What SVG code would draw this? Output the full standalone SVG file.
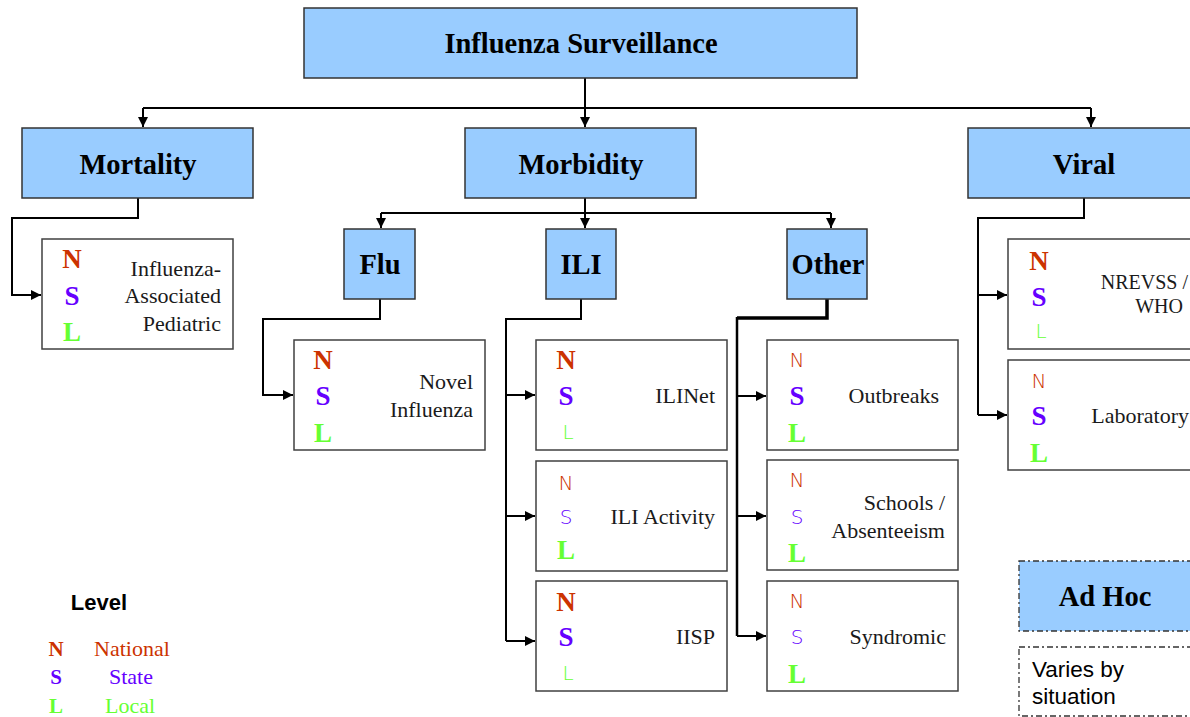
<svg xmlns="http://www.w3.org/2000/svg" width="1190" height="717" viewBox="0 0 1190 717">
<defs>
<marker id="arr" viewBox="0 0 10 10" refX="10" refY="5" markerWidth="10" markerHeight="10" markerUnits="userSpaceOnUse" orient="auto"><path d="M0,0 L10,5 L0,10 z" fill="#000"/></marker>
<style>
.hb{fill:#99CCFF;stroke:#333;stroke-width:1.5}
.wb{fill:#fff;stroke:#404040;stroke-width:1.5}
.dd{stroke-dasharray:6,3,2,3;stroke:#333;stroke-width:1.3}
.h{font-family:"Liberation Serif",serif;font-weight:bold;font-size:28.5px;text-anchor:middle;fill:#000}
.t{font-family:"Liberation Serif",serif;font-size:22px;text-anchor:end;fill:#1a1a1a}
.c{fill:none;stroke:#000;stroke-width:2}
.L{font-family:"Liberation Serif",serif;font-weight:bold;font-size:27px;text-anchor:middle}
.hw{font-family:"DejaVu Sans",sans-serif;font-weight:200;font-size:20px;text-anchor:middle}
.n{fill:#CC3300}.s{fill:#6600FF}.l{fill:#66FF33}
</style>
</defs>
<g id="connectors">
<path class="c" d="M585,78 V108 M143,108 H1091"/>
<path class="c" d="M143,108 V127" marker-end="url(#arr)"/>
<path class="c" d="M585,108 V127" marker-end="url(#arr)"/>
<path class="c" d="M1091,108 V127" marker-end="url(#arr)"/>
<path class="c" d="M138,198 V218 H12 V295 H41" marker-end="url(#arr)"/>
<path class="c" d="M585,198 V213 M381,213 H831"/>
<path class="c" d="M381,213 V228" marker-end="url(#arr)"/>
<path class="c" d="M585,213 V228" marker-end="url(#arr)"/>
<path class="c" d="M831,213 V228" marker-end="url(#arr)"/>
<path class="c" d="M380,299 V319 H263 V395 H293" marker-end="url(#arr)"/>
<path class="c" d="M581,299 V319 H506 V641"/>
<path class="c" d="M506,395 H535" marker-end="url(#arr)"/>
<path class="c" d="M506,516 H535" marker-end="url(#arr)"/>
<path class="c" d="M506,641 H535" marker-end="url(#arr)"/>
<path class="c" style="stroke-width:3.5" d="M827,299 V318 H737"/>
<path class="c" style="stroke-width:2.5" d="M737,317 V636"/>
<path class="c" d="M737,396 H766" marker-end="url(#arr)"/>
<path class="c" d="M737,516 H766" marker-end="url(#arr)"/>
<path class="c" d="M737,636 H766" marker-end="url(#arr)"/>
<path class="c" d="M1084,198 V218 H978 V415"/>
<path class="c" d="M978,295 H1007" marker-end="url(#arr)"/>
<path class="c" d="M978,415 H1007" marker-end="url(#arr)"/>
</g>
<g id="top"><rect class="hb" x="304" y="8" width="553" height="70"/><text class="h" x="581" y="53">Influenza Surveillance</text></g>
<g id="mortality"><rect class="hb" x="22" y="128" width="231" height="70"/><text class="h" x="138" y="174">Mortality</text></g>
<g id="morbidity"><rect class="hb" x="465" y="128" width="231" height="70"/><text class="h" x="581" y="174">Morbidity</text></g>
<g id="viral"><rect class="hb" x="968" y="128" width="232" height="70"/><text class="h" x="1084" y="174">Viral</text></g>
<g id="flu"><rect class="hb" x="344" y="229" width="71" height="70"/><text class="h" x="380" y="274">Flu</text></g>
<g id="ili"><rect class="hb" x="546" y="229" width="70" height="70"/><text class="h" x="581" y="274">ILI</text></g>
<g id="other"><rect class="hb" x="787" y="229" width="80" height="70"/><text class="h" x="828" y="274">Other</text></g>

<g id="pediatric"><rect class="wb" x="42" y="239" width="191" height="110"/>
<text class="L n" x="72" y="268">N</text><text class="L s" x="72" y="305">S</text><text class="L l" x="72" y="341">L</text>
<text class="t" x="221" y="276">Influenza-</text><text class="t" x="221" y="303">Associated</text><text class="t" x="221" y="331">Pediatric</text></g>

<g id="novel"><rect class="wb" x="294" y="340" width="191" height="110"/>
<text class="L n" x="323" y="369">N</text><text class="L s" x="323" y="405">S</text><text class="L l" x="323" y="442">L</text>
<text class="t" x="473" y="389">Novel</text><text class="t" x="473" y="417">Influenza</text></g>

<g id="ilinet"><rect class="wb" x="536" y="340" width="191" height="110"/>
<text class="L n" x="566" y="369">N</text><text class="L s" x="566" y="405">S</text><text class="hw l" x="568" y="439">L</text>
<text class="t" x="715" y="403">ILINet</text></g>

<g id="iliactivity"><rect class="wb" x="536" y="461" width="191" height="110"/>
<text class="hw n" x="566" y="490">N</text><text class="hw s" x="566" y="524">S</text><text class="L l" x="566" y="559">L</text>
<text class="t" x="715" y="524">ILI Activity</text></g>

<g id="iisp"><rect class="wb" x="536" y="581" width="191" height="110"/>
<text class="L n" x="566" y="611">N</text><text class="L s" x="566" y="646">S</text><text class="hw l" x="568" y="680">L</text>
<text class="t" x="715" y="644">IISP</text></g>

<g id="outbreaks"><rect class="wb" x="767" y="340" width="191" height="110"/>
<text class="hw n" x="797" y="367">N</text><text class="L s" x="797" y="405">S</text><text class="L l" x="797" y="442">L</text>
<text class="t" x="939" y="403">Outbreaks</text></g>

<g id="schools"><rect class="wb" x="767" y="460" width="191" height="110"/>
<text class="hw n" x="797" y="487">N</text><text class="hw s" x="797" y="524">S</text><text class="L l" x="797" y="562">L</text>
<text class="t" x="945" y="510">Schools /</text><text class="t" x="945" y="538">Absenteeism</text></g>

<g id="syndromic"><rect class="wb" x="767" y="581" width="191" height="110"/>
<text class="hw n" x="797" y="608">N</text><text class="hw s" x="797" y="644">S</text><text class="L l" x="797" y="683">L</text>
<text class="t" x="946" y="644">Syndromic</text></g>

<g id="nrevss"><rect class="wb" x="1008" y="239" width="192" height="110"/>
<text class="L n" x="1039" y="270">N</text><text class="L s" x="1039" y="306">S</text><text class="hw l" x="1041" y="338">L</text>
<text class="t" style="font-size:20px" x="1188" y="289">NREVSS /</text><text class="t" style="font-size:20px" x="1183" y="313">WHO</text></g>

<g id="laboratory"><rect class="wb" x="1008" y="360" width="192" height="110"/>
<text class="hw n" x="1039" y="388">N</text><text class="L s" x="1039" y="425">S</text><text class="L l" x="1039" y="462">L</text>
<text class="t" x="1189" y="423">Laboratory</text></g>

<g id="adhoc"><rect class="hb dd" x="1019" y="561" width="180" height="70"/><text class="h" x="1105" y="606">Ad Hoc</text></g>
<g id="varies"><rect class="dd" fill="#fff" x="1019" y="647" width="180" height="69"/>
<text x="1032" y="677" style="font-family:'Liberation Sans',sans-serif;font-size:22.5px">Varies by</text>
<text x="1032" y="704" style="font-family:'Liberation Sans',sans-serif;font-size:22.5px">situation</text></g>

<g id="legend">
<text x="99" y="610" style="font-family:'Liberation Sans',sans-serif;font-weight:bold;font-size:22px;text-anchor:middle">Level</text>
<text class="L n" style="font-size:21px" x="56" y="656">N</text>
<text class="L s" style="font-size:21px" x="56" y="684">S</text>
<text class="L l" style="font-size:21px" x="56" y="713">L</text>
<text class="n" x="132" y="656" style="font-family:'Liberation Serif',serif;font-size:22px;text-anchor:middle">National</text>
<text class="s" x="131" y="684" style="font-family:'Liberation Serif',serif;font-size:22px;text-anchor:middle">State</text>
<text class="l" x="130" y="713" style="font-family:'Liberation Serif',serif;font-size:22px;text-anchor:middle">Local</text>
</g>
</svg>
